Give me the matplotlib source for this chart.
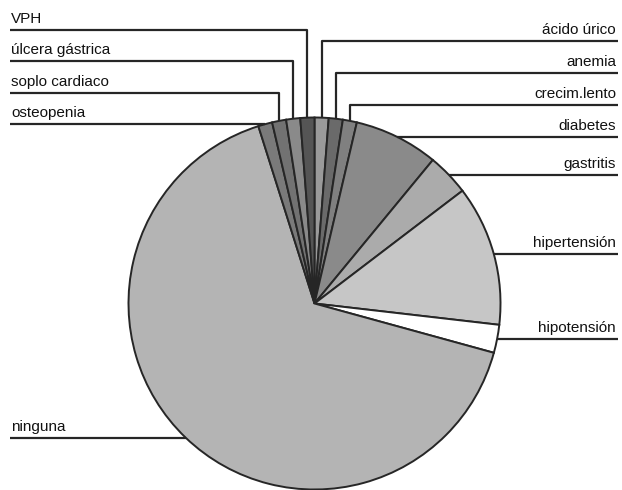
"""Pie chart of diagnoses with elbow leader lines (grayscale, scanned look)."""

import numpy as np
import matplotlib

matplotlib.use("Agg")
import matplotlib.pyplot as plt  # noqa: E402

plt.rcParams["font.family"] = ["Liberation Sans", "DejaVu Sans"]

# data: alphabetical order, clockwise from 12 o'clock
labels = [
    "ácido úrico", "anemia", "crecim.lento", "diabetes", "gastritis",
    "hipertensión", "hipotensión", "ninguna", "osteopenia",
    "soplo cardiaco", "úlcera gástrica", "VPH",
]
counts = [1, 1, 1, 6, 3, 10, 2, 54, 1, 1, 1, 1]
shades = [
    "#9a9a9a", "#6a6a6a", "#808080", "#8a8a8a", "#ababab",
    "#c6c6c6", "#ffffff", "#b4b4b4", "#7a7a7a",
    "#727272", "#8a8a8a", "#555555",
]

W, H = 622, 490
CX, CY, R = 314.5, H - 303.5, 186
INK = "#262626"

# tiny slices at the top get stacked label rows (pixel y of the rule)
stacked_rows = {
    "ácido úrico": 41, "anemia": 73, "crecim.lento": 105,
    "VPH": 30, "úlcera gástrica": 61, "soplo cardiaco": 93,
}

fig = plt.figure(figsize=(W / 100, H / 100), dpi=100)
ax = fig.add_axes([0, 0, 1, 1])

wedges, _ = ax.pie(
    counts,
    colors=shades,
    startangle=90,
    counterclock=False,
    center=(CX, CY),
    radius=R,
    wedgeprops=dict(edgecolor=INK, linewidth=1.4),
)

for w, name in zip(wedges, labels):
    mid = np.deg2rad((w.theta1 + w.theta2) / 2)
    px, py = CX + R * np.cos(mid), CY + R * np.sin(mid)
    right = np.cos(mid) >= 0
    x_end = 618 if right else 10
    if name in stacked_rows:
        ly = H - stacked_rows[name]
        xs, ys = [px, px, x_end], [py, ly, ly]
    else:
        ly = py
        xs, ys = [px, x_end], [py, py]
    ax.plot(xs, ys, color=INK, lw=1.6, solid_capstyle="butt")
    tx = 616 if right else 11
    ax.text(tx, ly + 4, name, ha="right" if right else "left", va="bottom",
            fontsize=11, color="#111111")

ax.set_xlim(0, W)
ax.set_ylim(0, H)
ax.set_aspect("auto")
ax.axis("off")

fig.savefig("out.png", dpi=100, facecolor="white")
